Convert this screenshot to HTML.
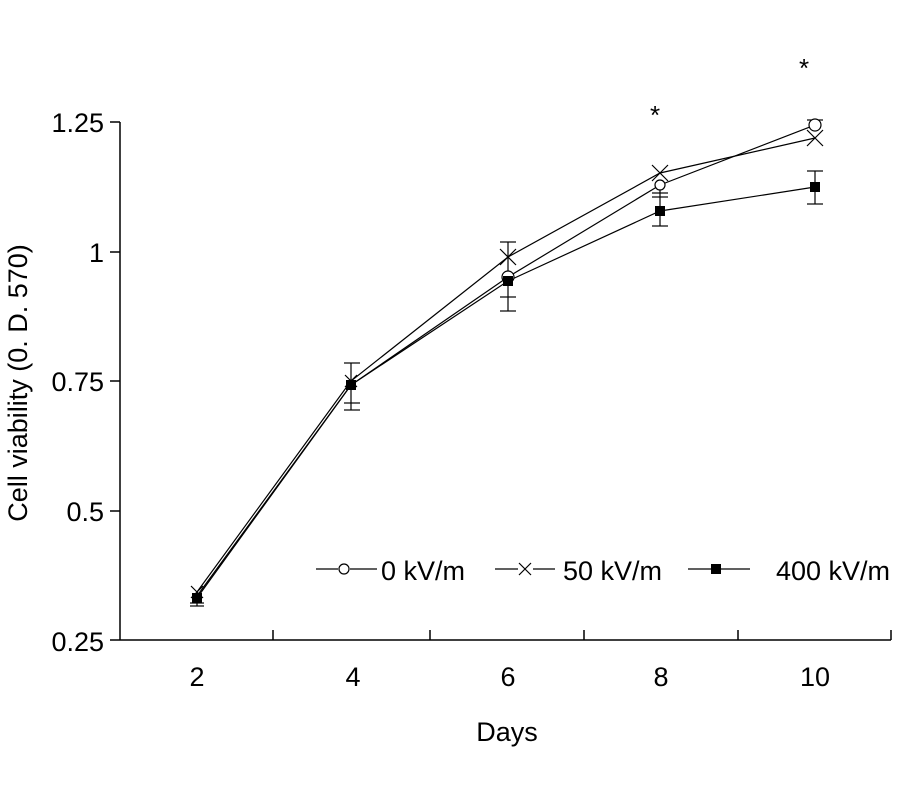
<!DOCTYPE html>
<html><head><style>
body{margin:0;background:#fff;}
svg text{font-family:"Liberation Sans",Arial,sans-serif;fill:#000;}
</style></head><body>
<svg width="900" height="800" viewBox="0 0 900 800" xmlns="http://www.w3.org/2000/svg">
<g stroke="#000" stroke-width="1.5" fill="none">
<line x1="120" y1="122" x2="120" y2="640"/>
<line x1="120" y1="640" x2="891" y2="640"/>
<line x1="110" y1="122" x2="120" y2="122"/>
<line x1="110" y1="252" x2="120" y2="252"/>
<line x1="110" y1="381" x2="120" y2="381"/>
<line x1="110" y1="511" x2="120" y2="511"/>
<line x1="110" y1="640" x2="120" y2="640"/>
<line x1="273" y1="630" x2="273" y2="640"/>
<line x1="430" y1="630" x2="430" y2="640"/>
<line x1="584" y1="630" x2="584" y2="640"/>
<line x1="738" y1="630" x2="738" y2="640"/>
<line x1="891" y1="630" x2="891" y2="640"/>
</g>
<g font-size="27" text-anchor="end">
<text x="104" y="132">1.25</text>
<text x="104" y="262">1</text>
<text x="104" y="391">0.75</text>
<text x="104" y="521">0.5</text>
<text x="104" y="651">0.25</text>
</g>
<g font-size="27" text-anchor="middle">
<text x="197" y="686">2</text>
<text x="353" y="686">4</text>
<text x="508" y="686">6</text>
<text x="661" y="686">8</text>
<text x="815" y="686">10</text>
<text x="507" y="741">Days</text>
<text transform="translate(27,383) rotate(-90)">Cell viability (0. D. 570)</text>
</g>
<g font-size="26" text-anchor="middle">
<text x="655" y="124">*</text>
<text x="804" y="77">*</text>
</g>
<g stroke="#000" stroke-width="1.2" fill="none">
<line x1="197" y1="592" x2="197" y2="606"/><line x1="190" y1="606" x2="204" y2="606"/><line x1="190" y1="603" x2="204" y2="603"/>
<line x1="351" y1="363" x2="351" y2="410"/><line x1="344" y1="363" x2="360" y2="363"/><line x1="344" y1="410" x2="360" y2="410"/><line x1="344" y1="403" x2="360" y2="403"/>
<line x1="508" y1="242" x2="508" y2="311"/><line x1="500" y1="242" x2="516" y2="242"/><line x1="500" y1="311" x2="516" y2="311"/><line x1="500" y1="297" x2="516" y2="297"/>
<line x1="660" y1="187" x2="660" y2="226"/><line x1="652" y1="193" x2="668" y2="193"/><line x1="652" y1="197" x2="668" y2="197"/><line x1="652" y1="226" x2="668" y2="226"/><line x1="656" y1="188" x2="664" y2="188"/>
<line x1="815" y1="120" x2="815" y2="128"/><line x1="807" y1="120" x2="823" y2="120"/>
<line x1="815" y1="171" x2="815" y2="204"/><line x1="807" y1="171" x2="823" y2="171"/><line x1="807" y1="204" x2="823" y2="204"/>
<polyline points="197,596 351,385 508,277 660,185 815,125"/>
<polyline points="197,592 351,381 508,257 660,173 815,138"/>
<polyline points="197,598 351,385 508,281 660,211 815,187"/>
</g>
<g stroke="#000" stroke-width="1.2" fill="#fff">
<circle cx="508" cy="277" r="6"/>
<circle cx="815" cy="125" r="6"/>
<circle cx="660" cy="185" r="5"/>
</g>
<g stroke="#000" stroke-width="1.2">
<path d="M191,586 l12,12 M203,586 l-12,12"/>
<path d="M345,375 l12,12 M357,375 l-12,12"/>
<path d="M500,249 l16,16 M516,249 l-16,16"/>
<path d="M652,165 l16,16 M668,165 l-16,16"/>
<path d="M807,130 l16,16 M823,130 l-16,16"/>
</g>
<g fill="#000">
<rect x="192" y="593" width="10" height="10"/>
<rect x="346" y="380" width="10" height="10"/>
<rect x="503" y="276" width="10" height="10"/>
<rect x="655" y="206" width="10" height="10"/>
<rect x="810" y="182" width="10" height="10"/>
</g>
<g stroke="#000" stroke-width="1.2" fill="none">
<line x1="316" y1="569" x2="338" y2="569"/><line x1="350" y1="569" x2="377" y2="569"/>
<circle cx="344" cy="569" r="5" fill="#fff"/>
<line x1="495" y1="569" x2="518" y2="569"/><line x1="533" y1="569" x2="555" y2="569"/>
<path d="M519,563 l12,12 M531,563 l-12,12"/>
<line x1="688" y1="569" x2="750" y2="569"/>
</g>
<rect x="711" y="564" width="10" height="10" fill="#000"/>
<g font-size="27">
<text x="381" y="580">0 kV/m</text>
<text x="563" y="580">50 kV/m</text>
<text x="776" y="580">400 kV/m</text>
</g>
</svg>
</body></html>
